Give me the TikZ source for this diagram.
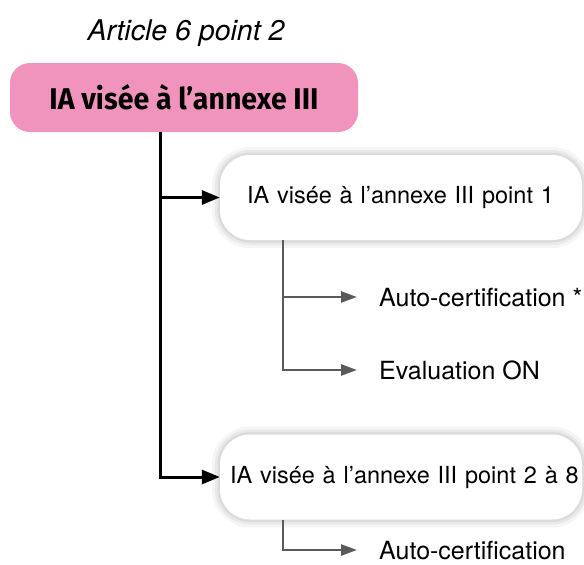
\documentclass[tikz,border=0pt]{standalone}
\usepackage{fontspec}
\setmainfont{TeX Gyre Heros}
\newfontfamily\titlefont[FakeStretch=0.95]{Fira Sans}
\usetikzlibrary{arrows.meta, positioning, shadows}
\definecolor{rose}{RGB}{240,148,190}
\definecolor{leafgray}{RGB}{90,90,90}

\begin{document}
\begin{tikzpicture}[x=1pt, y=-1pt,
    main/.style={fill=rose, rounded corners=20pt, minimum width=348pt,
        minimum height=69pt, font=\titlefont\bfseries\fontsize{30}{32}\selectfont},
    glow/.style={preaction={draw=black, draw opacity=.04, line width=16pt},
        preaction={draw=black, draw opacity=.05, line width=10pt},
        preaction={draw=black, draw opacity=.06, line width=5pt}},
    sub/.style={fill=white, rounded corners=30pt, minimum height=85pt, align=left,
        glow, font=\fontsize{23.5}{28}\selectfont},
    leaf/.style={anchor=west, inner sep=0pt, text height=19pt, text depth=0pt,
        font=\fontsize{25}{30}\selectfont},
    link/.style={line width=3pt, -{Triangle[length=18pt,width=14pt]}},
    sublink/.style={line width=2.5pt, leafgray, -{Triangle[length=16pt,width=11pt]},
        shorten >=22pt}]
    \useasboundingbox (0,0) rectangle (584,565);
    \clip (0,0) rectangle (584,565);
    % titre et boite principale
    \node (art) at (186,33) {\itshape\fontsize{28.5}{30}\selectfont Article 6 point 2};
    \node[main] (pink) at (184,97.5) {IA visée à l’annexe III};
    % les deux sous-categories
    \node[sub, inner xsep=27pt, text width=308pt] (box1) at (401,197.5)
        {IA visée à l’annexe III point 1};
    \node[sub, inner xsep=10pt, text width=342pt] (box2) at (401,477)
        {\mbox{IA visée à l’annexe III point 2 à 8}};
    % tronc vertical
    \coordinate (trunk) at ([xshift=-24pt]pink.south);
    \draw[link] (trunk) |- (box2.west);
    \draw[link] (trunk |- box1.west) -- (box1.west);
    % procedures
    \node[leaf] (cert1) at (379,297) {Auto-certification *};
    \node[leaf] (eval1) at (379,370) {Evaluation ON};
    \node[leaf] (cert2) at (379,550) {Auto-certification};
    \coordinate (fork1) at ([xshift=63pt]box1.south west);
    \coordinate (fork2) at ([xshift=63pt]box2.south west);
    \draw[sublink] (fork1) |- (cert1.west);
    \draw[sublink] (fork1) |- (eval1.west);
    \draw[sublink] (fork2) |- (cert2.west);
\end{tikzpicture}
\end{document}
